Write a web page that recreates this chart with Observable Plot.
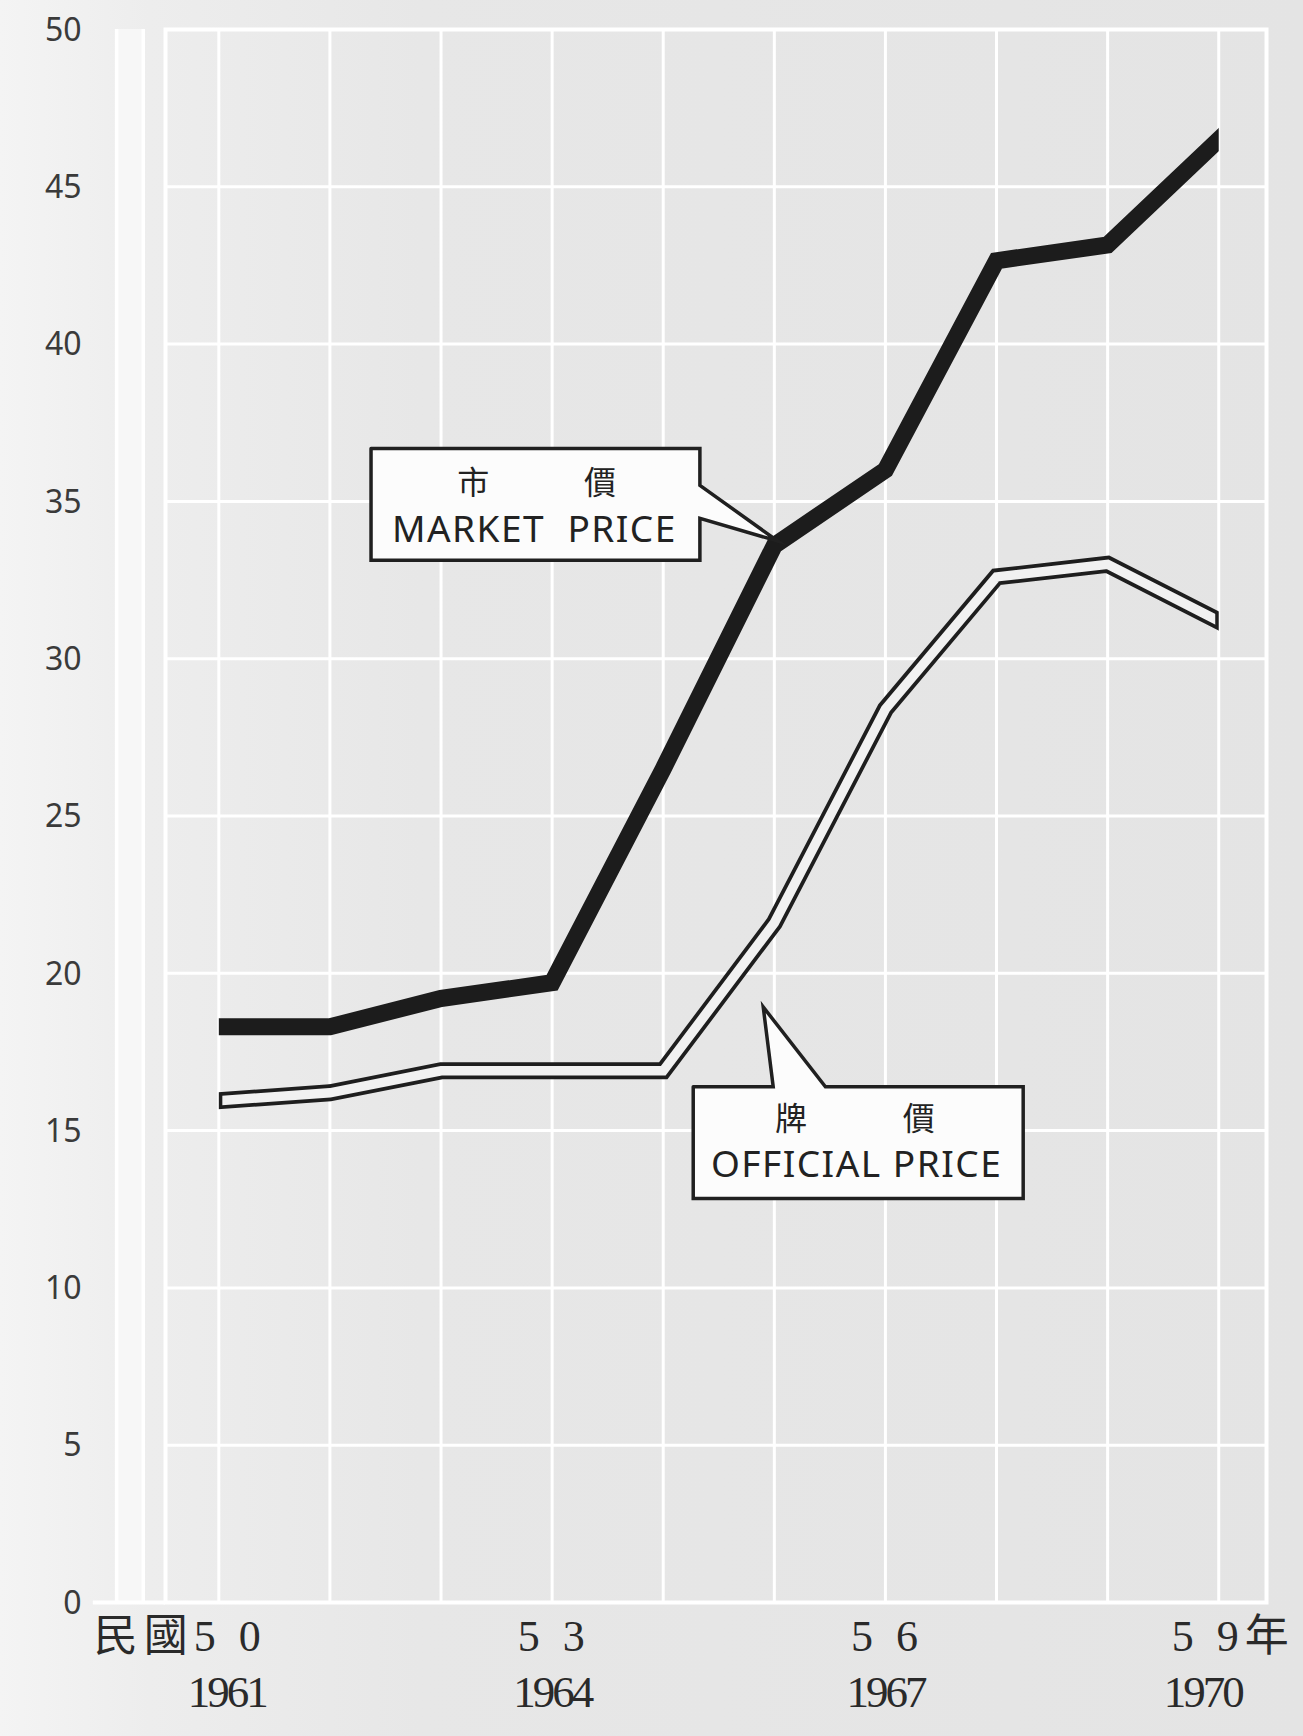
<!DOCTYPE html>
<html><head><meta charset="utf-8">
<script src="https://cdn.jsdelivr.net/npm/d3@7"></script>
<script src="https://cdn.jsdelivr.net/npm/@observablehq/plot@0.6"></script>
<style>
html,body{margin:0;padding:0;}
body{width:1303px;height:1736px;overflow:hidden;background:linear-gradient(to right,#f4f4f4 0px,#ededed 150px,#e7e7e7 420px,#e4e4e4 1303px);}
#chart svg{display:block;}
</style></head><body><div id="chart"></div>
<script>
// ---- data ----
const years = [1961, 1962, 1963, 1964, 1965, 1966, 1967, 1968, 1969, 1970];
const marketPrice = [18.3, 18.3, 19.2, 19.7, 26.5, 33.6, 36.0, 42.65, 43.15, 46.5];
const officialPrice = [15.95, 16.2, 16.9, 16.9, 16.9, 21.6, 28.4, 32.6, 33.0, 31.2];
const yTicks = [0, 5, 10, 15, 20, 25, 30, 35, 40, 45, 50];
const labelYears = [1961, 1964, 1967, 1970];
const rocLabels = ["民國5 0", "5 3", "5 6", "5 9年"];
const adLabels = ["1961", "1964", "1967", "1970"];
const marketLabel = {zh: ["市", "價"], en: "MARKET  PRICE"};
const officialLabel = {zh: ["牌", "價"], en: "OFFICIAL PRICE"};

// ---- layout (data units) ----
const frameX = [1960.52, 1970.43];
const leftBand = [{x1: 1960.08, x2: 1960.32}];
const zeroExt = [{x1: 1959.87, x2: 1960.52}];
const marketCallout = [
  {x: 1962.37, y: 36.68}, {x: 1965.33, y: 36.68}, {x: 1965.33, y: 35.51},
  {x: 1966.03, y: 33.74}, {x: 1965.33, y: 34.46}, {x: 1965.33, y: 33.13},
  {x: 1962.37, y: 33.13}, {x: 1962.37, y: 36.68}
];
const officialCallout = [
  {x: 1965.27, y: 16.39}, {x: 1965.99, y: 16.39}, {x: 1965.90, y: 18.93},
  {x: 1966.46, y: 16.39}, {x: 1968.24, y: 16.39}, {x: 1968.24, y: 12.84},
  {x: 1965.27, y: 12.84}, {x: 1965.27, y: 16.39}
];
const marketText = {zh: [{x: 1963.29, y: 35.55}, {x: 1964.43, y: 35.55}], en: {x: 1963.84, y: 34.1}};
const officialText = {zh: [{x: 1966.15, y: 15.35}, {x: 1967.30, y: 15.35}], en: {x: 1966.74, y: 13.9}};

const market = years.map((year, i) => ({year, price: marketPrice[i]}));
const official = years.map((year, i) => ({year, price: officialPrice[i]}));
const xLab = labelYears.map((year, i) => ({year, roc: rocLabels[i], ad: adLabels[i], i}));
const last = xLab.length - 1;

const serif = "'Liberation Serif', 'Noto Sans CJK TC', serif";
const sans = "'Noto Sans', 'DejaVu Sans', sans-serif";
const cjk = "'Noto Sans CJK TC', sans-serif";
const W = 1303, H = 1736;
const MARKET_INK = "#1c1c1c", EDGE_INK = "#1e1e1e", FILL_INK = "#f1f1f1";
const ROC_SIZE = 44, AD_SIZE = 45, EN_SIZE = 37;
const labelInk = "#2a2a2a";

const chart = Plot.plot({
  width: W, height: H,
  marginLeft: 165, marginRight: 37, marginTop: 29, marginBottom: 134,
  x: {domain: frameX, axis: null},
  y: {domain: [0, 50], axis: null},
  style: {background: "transparent", overflow: "visible", fontFamily: sans, fontSize: "32px"},
  marks: [
    Plot.rect(leftBand, {x1: "x1", x2: "x2", y1: 0, y2: 50, fill: "#f7f7f7"}),
    Plot.ruleX(leftBand, {x: "x1", y1: 0, y2: 50, stroke: "white", strokeWidth: 3.5}),
    Plot.ruleX(leftBand, {x: "x2", y1: 0, y2: 50, stroke: "white", strokeWidth: 3.5}),
    Plot.ruleY(zeroExt, {y: 0, x1: "x1", x2: "x2", stroke: "white", strokeWidth: 4}),
    Plot.ruleX(years, {stroke: "white", strokeWidth: 3}),
    Plot.ruleY(yTicks, {stroke: "white", strokeWidth: 3}),
    Plot.frame({stroke: "white", strokeWidth: 4}),
    Plot.axisY(yTicks, {tickSize: 0, tickPadding: 84, fontSize: 32, fontFamily: sans, fill: "#3a3a3a", label: null, dy: 1}),
    // official price: hollow double line
    Plot.line(official, {x: "year", y: "price", stroke: EDGE_INK, strokeWidth: 17, strokeLinecap: "square", strokeLinejoin: "miter", strokeMiterlimit: 8}),
    Plot.line(official, {x: "year", y: "price", stroke: FILL_INK, strokeWidth: 9.5, strokeLinecap: "square", strokeLinejoin: "miter", strokeMiterlimit: 8}),
    // market price: thick black line
    Plot.line(market, {x: "year", y: "price", stroke: MARKET_INK, strokeWidth: 17, strokeLinecap: "square", strokeLinejoin: "miter", strokeMiterlimit: 8}),
    // callouts
    Plot.line(marketCallout, {x: "x", y: "y", fill: "#fcfcfc", stroke: "#202020", strokeWidth: 3.5, strokeLinejoin: "miter", strokeMiterlimit: 10}),
    Plot.line(officialCallout, {x: "x", y: "y", fill: "#fcfcfc", stroke: "#202020", strokeWidth: 3.5, strokeLinejoin: "miter", strokeMiterlimit: 10}),
    Plot.text(marketText.zh, {x: "x", y: "y", text: (d, i) => marketLabel.zh[i], fontFamily: cjk, fontSize: 32, fill: "#222"}),
    Plot.text([marketText.en], {x: "x", y: "y", text: () => marketLabel.en, fontFamily: sans, fontSize: EN_SIZE, fill: "#222"}),
    Plot.text(officialText.zh, {x: "x", y: "y", text: (d, i) => officialLabel.zh[i], fontFamily: cjk, fontSize: 32, fill: "#222"}),
    Plot.text([officialText.en], {x: "x", y: "y", text: () => officialLabel.en, fontFamily: sans, fontSize: EN_SIZE, fill: "#222"}),
    // x labels: ROC year row
    Plot.text(xLab.filter(d => d.i === 0), {x: "year", text: "roc", frameAnchor: "bottom", dy: 48, dx: 48, textAnchor: "end", fontFamily: serif, fontSize: ROC_SIZE, fill: labelInk}),
    Plot.text(xLab.filter(d => d.i > 0 && d.i < last), {x: "year", text: "roc", frameAnchor: "bottom", dy: 48, dx: 2, fontFamily: serif, fontSize: ROC_SIZE, fill: labelInk}),
    Plot.text(xLab.filter(d => d.i === last), {x: "year", text: "roc", frameAnchor: "bottom", dy: 48, dx: -47, textAnchor: "start", fontFamily: serif, fontSize: ROC_SIZE, fill: labelInk}),
    // x labels: western year row
    Plot.text(xLab.filter(d => d.i === 0), {x: "year", text: "ad", frameAnchor: "bottom", dy: 104, dx: 8, fontFamily: serif, fontSize: AD_SIZE, fill: labelInk}),
    Plot.text(xLab.filter(d => d.i > 0 && d.i < last), {x: "year", text: "ad", frameAnchor: "bottom", dy: 104, fontFamily: serif, fontSize: AD_SIZE, fill: labelInk}),
    Plot.text(xLab.filter(d => d.i === last), {x: "year", text: "ad", frameAnchor: "bottom", dy: 104, dx: -16, fontFamily: serif, fontSize: AD_SIZE, fill: labelInk})
  ]
});

const svg = d3.select(chart);
// letter spacing (not a Plot text option): applied to the rendered label groups
svg.selectAll(`[font-size="${ROC_SIZE}"]`).attr("letter-spacing", 6);
svg.selectAll(`[font-size="${AD_SIZE}"]`).attr("letter-spacing", -3);
svg.selectAll(`[font-size="${EN_SIZE}"]`).attr("letter-spacing", 1.5);

// vertical cut ends for the price lines, computed from the x scale
const xs = chart.scale("x");
const xa = xs.apply(years[0]), xb = xs.apply(years[years.length - 1]);
const defs = svg.append("defs");
defs.append("clipPath").attr("id", "clipOuter").attr("clipPathUnits", "userSpaceOnUse").append("rect")
  .attr("x", xa).attr("y", 0).attr("width", xb - xa).attr("height", H);
defs.append("clipPath").attr("id", "clipInner").attr("clipPathUnits", "userSpaceOnUse").append("rect")
  .attr("x", xa + 3.5).attr("y", 0).attr("width", xb - xa - 7).attr("height", H);
svg.selectAll(`g[stroke="${MARKET_INK}"], g[stroke="${EDGE_INK}"]`).attr("clip-path", "url(#clipOuter)");
svg.selectAll(`g[stroke="${FILL_INK}"]`).attr("clip-path", "url(#clipInner)");

document.getElementById("chart").appendChild(chart);
</script>
</body></html>
